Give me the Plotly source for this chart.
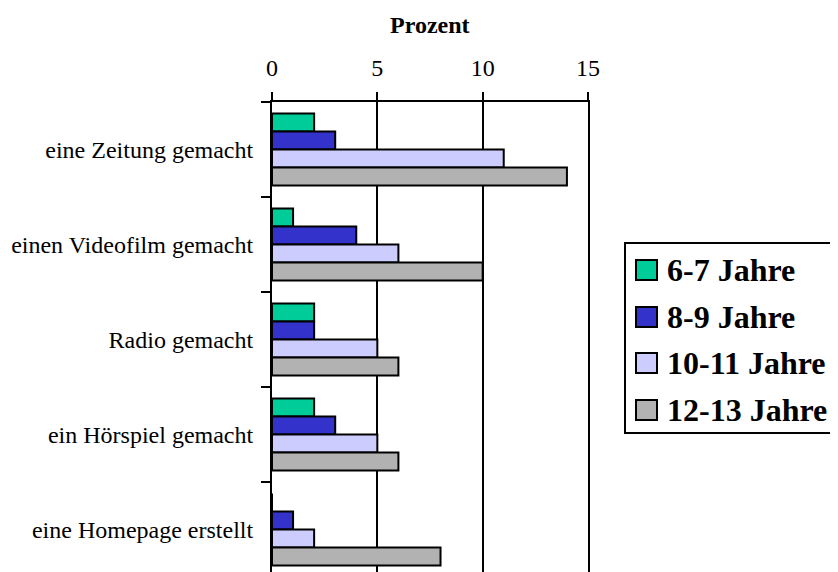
import plotly.graph_objects as go

categories = ["eine Zeitung gemacht", "einen Videofilm gemacht", "Radio gemacht",
              "ein Hörspiel gemacht", "eine Homepage erstellt"]
series_names = ["6-7 Jahre", "8-9 Jahre", "10-11 Jahre", "12-13 Jahre"]
v_6_7 = [2, 1, 2, 2, 0]
v_8_9 = [3, 4, 2, 3, 1]
v_10_11 = [11, 6, 5, 5, 2]
v_12_13 = [14, 10, 6, 6, 8]
colors = ["#00CC99", "#3333CC", "#CCCCFF", "#B2B2B2"]
x_ticks = [0, 5, 10, 15]

# page is offset by 8px in the viewport
OFF = 8
W, H = 838 - OFF, 572 - OFF
ml, mt, mb = 272 - OFF, 102 - OFF, 0
pw = 316
mr = W - ml - pw
ph = H - mt - mb

fig = go.Figure()
for name, vals, col in zip(series_names, [v_6_7, v_8_9, v_10_11, v_12_13], colors):
    fig.add_trace(go.Bar(
        y=categories, x=vals, name=name, orientation="h", showlegend=False,
        marker=dict(color=col, line=dict(color="black", width=2)),
    ))

cat_px = 95.0
bottom = -0.5 + ph / cat_px


def px_x(px):  # page px -> paper x
    return (px - OFF - ml) / pw


def px_y(py):  # page px -> paper y
    return (H + OFF - mb - py) / ph


shapes = []
annotations = []
# legend box
shapes.append(dict(type="rect", xref="paper", yref="paper",
                   x0=px_x(625), x1=px_x(850), y0=px_y(433), y1=px_y(243),
                   line=dict(color="black", width=2), fillcolor="white", layer="above"))
row_centers = [270, 317, 363, 410]
for name, col, yc in zip(series_names, colors, row_centers):
    shapes.append(dict(type="rect", xref="paper", yref="paper",
                       x0=px_x(636), x1=px_x(657), y0=px_y(yc + 10), y1=px_y(yc - 10),
                       line=dict(color="black", width=2), fillcolor=col, layer="above"))
    annotations.append(dict(text="<b>%s</b>" % name, xref="paper", yref="paper",
                            x=px_x(665), y=px_y(yc), xanchor="left", yanchor="middle",
                            showarrow=False,
                            font=dict(family="Liberation Serif", size=32, color="black")))

annotations.append(dict(
    text="<b>Prozent</b>", x=0.5, y=1, xref="paper", yref="paper",
    xanchor="center", yanchor="middle", yshift=mt - (25 - OFF), showarrow=False,
    font=dict(size=24)))

fig.update_layout(
    width=W, height=H,
    margin=dict(l=ml, r=mr, t=mt, b=mb, pad=0),
    paper_bgcolor="white", plot_bgcolor="white",
    barmode="group", bargap=0.24, bargroupgap=0,
    font=dict(family="Liberation Serif", size=24, color="black"),
    xaxis=dict(
        side="top", range=[0, 15], tickvals=x_ticks, ticks="outside", ticklen=8,
        tickwidth=2, tickcolor="black", showline=True, linecolor="black", linewidth=2,
        showgrid=True, gridcolor="black", gridwidth=2, zeroline=False,
        tickfont=dict(size=24), ticklabelstandoff=6,
    ),
    yaxis=dict(
        type="category", range=[bottom, -0.5], tickson="boundaries",
        ticks="outside", ticklen=9, tickwidth=2, tickcolor="black",
        showline=True, mirror=True, linecolor="black", linewidth=2, showgrid=False,
        tickfont=dict(size=24), ticklabelstandoff=12,
    ),
    showlegend=False,
    shapes=shapes,
    annotations=annotations,
)

fig.write_html("out.html")
